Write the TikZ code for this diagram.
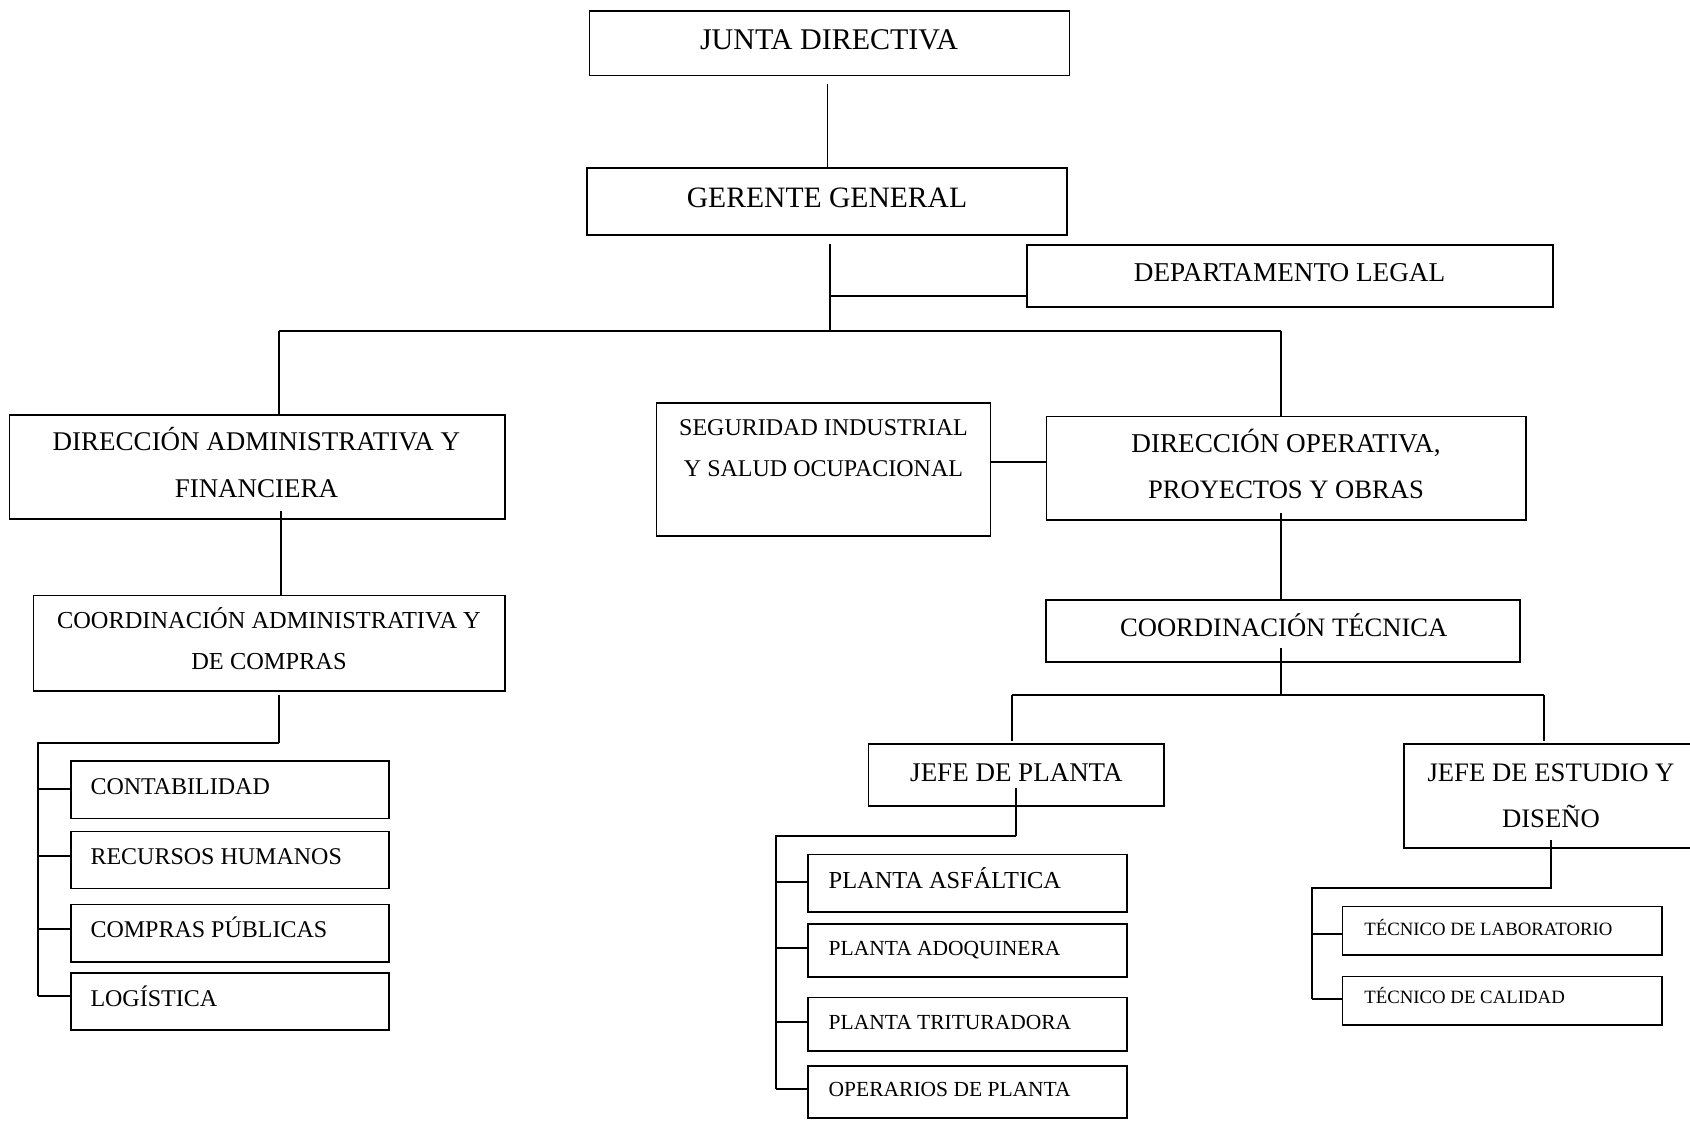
\documentclass[tikz,border=0pt]{standalone}
\usepackage{fontspec}
\setmainfont{Liberation Serif}
% Box given by its corners: name, x1, y1, x2, y2
\newcommand\orgbox[5]{%
  \node[box, minimum width={(#4-#2)*0.5pt}, minimum height={(#5-#3)*0.5pt}]
    (#1) at ({(#2+#4)/2},{(#3+#5)/2}) {};}
\begin{document}
\begin{tikzpicture}[x=0.5pt,y=-0.5pt,
  box/.style={draw, line width=0.7pt, inner sep=0pt, outer sep=0pt},
  lbl/.style={inner sep=0pt, outer sep=0pt, anchor=base},
  lbll/.style={inner sep=0pt, outer sep=0pt, anchor=base west},
  link/.style={line width=0.65pt},
  bus/.style={line width=1.05pt, line join=miter},
  fA/.style={font=\fontsize{15}{17}\selectfont},
  fB/.style={font=\fontsize{13.5}{16}\selectfont},
  fC/.style={font=\fontsize{12}{14}\selectfont},
  fCa/.style={font=\fontsize{12.2}{14}\selectfont},
  fD/.style={font=\fontsize{10.75}{13}\selectfont},
  fE/.style={font=\fontsize{9.4}{11}\selectfont}]
\useasboundingbox (0,0) rectangle (1690,1120);
\fill[white] (0,0) rectangle (1690,1120);
\clip (0,0) rectangle (1690,1120);

% ---- boxes ----
\orgbox{junta}{589.6}{10.8}{1069.2}{75.4}
\orgbox{gerente}{587}{168}{1067}{235}
\orgbox{legal}{1027}{245}{1553}{307}
\orgbox{dadm}{9.7}{415}{505}{519}
\orgbox{seg}{656.7}{403}{990.7}{536}
\orgbox{dop}{1046.7}{416.7}{1526}{520}
\orgbox{cadm}{33.4}{595.7}{505}{691}
\orgbox{ctec}{1046}{600}{1520}{661.8}
\orgbox{jpl}{868.5}{744}{1164}{806}
\orgbox{jest}{1404}{744}{1698}{848}
\orgbox{cont}{71}{761}{389}{818.6}
\orgbox{rrhh}{71}{831.4}{389}{888.6}
\orgbox{comp}{71}{904.6}{389}{962}
\orgbox{log}{71}{973}{389}{1030}
\orgbox{asf}{808}{854.6}{1127}{911.8}
\orgbox{adoq}{808}{924}{1127}{977}
\orgbox{trit}{808}{997.5}{1127}{1051}
\orgbox{oper}{808}{1066}{1127}{1118}
\orgbox{tlab}{1342.7}{906.7}{1662}{955}
\orgbox{tcal}{1342.7}{976.7}{1662}{1025}

% ---- labels ----
\node[lbl,fA] (junta-t) at (829,49) {JUNTA DIRECTIVA};
\node[lbl,fA,font=\fontsize{14.8}{17}\selectfont] (gerente-t) at (827,207.3) {GERENTE GENERAL};
\node[lbl,fB,font=\fontsize{13.6}{16}\selectfont] (legal-t) at (1289.6,281.2) {DEPARTAMENTO LEGAL};
\node[lbl,fB] (dadm-t1) at (256.5,450.5) {DIRECCIÓN ADMINISTRATIVA Y};
\node[lbl,fB] (dadm-t2) at (256.5,497.7) {FINANCIERA};
\node[lbl,fC] (seg-t1) at (823.5,435.4) {SEGURIDAD INDUSTRIAL};
\node[lbl,fC] (seg-t2) at (823.5,476) {Y SALUD OCUPACIONAL};
\node[lbl,fB,font=\fontsize{13.6}{16}\selectfont] (dop-t1) at (1286,452) {DIRECCIÓN OPERATIVA,};
\node[lbl,fB,font=\fontsize{13.3}{16}\selectfont] (dop-t2) at (1286,498) {PROYECTOS Y OBRAS};
\node[lbl,fCa] (cadm-t1) at (269,628.8) {COORDINACIÓN ADMINISTRATIVA Y};
\node[lbl,fCa] (cadm-t2) at (269,669.8) {DE COMPRAS};
\node[lbl,fB,font=\fontsize{13.3}{16}\selectfont] (ctec-t) at (1283.7,636.7) {COORDINACIÓN TÉCNICA};
\node[lbl,fB] (jpl-t) at (1016.4,781.2) {JEFE DE PLANTA};
\node[lbl,fB,font=\fontsize{13.35}{16}\selectfont] (jest-t1) at (1551,781.2) {JEFE DE ESTUDIO Y};
\node[lbl,fB,font=\fontsize{13.35}{16}\selectfont] (jest-t2) at (1551,827) {DISEÑO};
\node[lbll,fC] (cont-t) at (90.5,794) {CONTABILIDAD};
\node[lbll,fC] (rrhh-t) at (90.5,864) {RECURSOS HUMANOS};
\node[lbll,fC] (comp-t) at (90.5,937.6) {COMPRAS PÚBLICAS};
\node[lbll,fC] (log-t) at (90.5,1006) {LOGÍSTICA};
\node[lbll,fC,font=\fontsize{12.2}{14}\selectfont] (asf-t) at (828.7,888) {PLANTA ASFÁLTICA};
\node[lbll,fD] (adoq-t) at (828.7,955.5) {PLANTA ADOQUINERA};
\node[lbll,fD] (trit-t) at (828.7,1029.5) {PLANTA TRITURADORA};
\node[lbll,fD] (oper-t) at (828.7,1096) {OPERARIOS DE PLANTA};
\node[lbll,fE] (tlab-t) at (1364.3,935) {TÉCNICO DE LABORATORIO};
\node[lbll,fE] (tcal-t) at (1364.3,1003.5) {TÉCNICO DE CALIDAD};

% ---- upper levels ----
\coordinate (j0) at (827.8,84);
\draw[link] (j0) -- (j0 |- gerente.north);
\coordinate (g0) at (830,244);
\coordinate (g1) at (830,331);
\draw[link] (g0) -- (g1);
\coordinate (g2) at (830,296);
\draw[bus] (g2) -- (g2 -| legal.west);
\coordinate (bl) at (279,331);
\coordinate (br) at (1281,331);
\draw[bus] (bl) -- (br);
\draw[link] (bl) -- (bl |- dadm.north);
\draw[link] (br) -- (br |- dop.north);
\coordinate (sy) at (0,462);
\draw[bus] (seg.east |- sy) -- (dop.west |- sy);

% ---- administrative branch ----
\coordinate (a0) at (281,511);
\draw[link] (a0) -- (a0 |- cadm.north);
\coordinate (a1) at (279,694.6);
\coordinate (a2) at (279,743);
\coordinate (a3) at (37.7,743);
\coordinate (a4) at (37.7,996.4);
\draw[link] (a1) -- (a2);
\draw[bus] (a2) -- (a3) -- (a4);
\foreach \n/\y in {cont/789, rrhh/856, comp/929, log/996.4}{
  \coordinate (t-\n) at (37.7,\y);
  \draw[bus] (t-\n) -- (t-\n -| \n.west);
}

% ---- operative branch ----
\coordinate (o0) at (1281,512.5);
\draw[link] (o0) -- (o0 |- ctec.north);
\coordinate (o1) at (1281,647.5);
\coordinate (o2) at (1281,694.6);
\draw[link] (o1) -- (o2);
\coordinate (ol) at (1012,694.6);
\coordinate (or) at (1544,694.6);
\draw[bus] (ol) -- (or);
\draw[bus] (ol) -- (1012,741);
\draw[link] (or) -- (1544,741);

% plant chief
\coordinate (p0) at (1016,788);
\coordinate (p1) at (1016,836);
\coordinate (p2) at (776,836);
\coordinate (p3) at (776,1088.6);
\draw[link] (p0) -- (p1);
\draw[bus] (p1) -- (p2) -- (p3);
\foreach \n/\y in {asf/881.8, adoq/948, trit/1021.8, oper/1088.6}{
  \coordinate (t-\n) at (776,\y);
  \draw[bus] (t-\n) -- (t-\n -| \n.west);
}

% studies and design chief
\coordinate (e0) at (1550.7,840);
\coordinate (e1) at (1550.7,888);
\coordinate (e2) at (1311.7,888);
\coordinate (e3) at (1311.7,999.3);
\draw[bus] (e0) -- (e1) -- (e2) -- (e3);
\foreach \n/\y in {tlab/934, tcal/999.3}{
  \coordinate (t-\n) at (1311.7,\y);
  \draw[bus] (t-\n) -- (t-\n -| \n.west);
}
\end{tikzpicture}
\end{document}
